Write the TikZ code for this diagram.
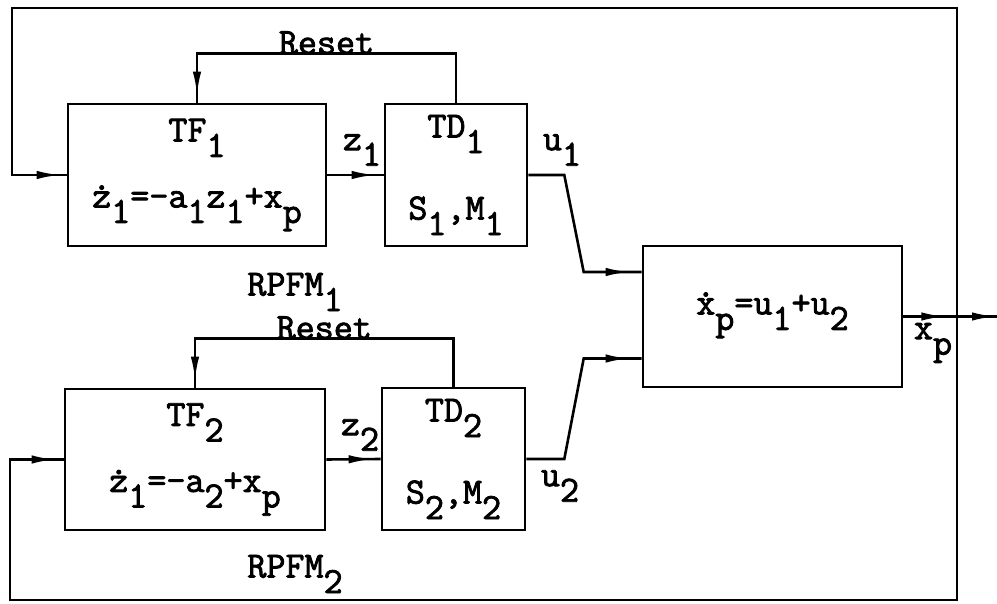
\documentclass[tikz,border=0pt]{standalone}
\usepackage{fontspec}
\setmonofont{Latin Modern Mono}[AutoFakeBold=2.2]
\usetikzlibrary{arrows.meta,decorations.markings,calc}
\newcommand\lo[1]{\raisebox{-0.42em}{#1}}
\newcommand\dt[1]{\ooalign{#1\cr\hidewidth\raisebox{0.48em}{.}\hidewidth\cr}}
\newcommand\typefont{\fontsize{18.5}{21}\selectfont\ttfamily\bfseries}

\begin{document}
\begin{tikzpicture}[x=0.5pt, y=-0.5pt,
  >={Latex[length=12pt,width=4.2pt]},
  line/.style={line width=1.3pt},
  box/.style={draw, line width=1.3pt, inner sep=0pt, align=center, font=\typefont},
  lbl/.style={inner sep=1pt, font=\typefont},
  arr/.style={line, postaction={decorate}, decoration={markings, mark=at position #1 with {\arrow{>}}}},
]
\useasboundingbox (0,0) rectangle (997,604);

% === RPFM_1 ===
\node[box, minimum width=129pt, minimum height=71pt] (tf1) at (197,175) {TF\lo1\\[12pt]\dt{z}\lo1=-a\lo1z\lo1+x\lo p};
\node[box, minimum width=71pt, minimum height=71pt] (td1) at (456,175) {TD\lo1\\[20pt]S\lo1,M\lo1};
\node[lbl] (rpfm1) at (295,292) {RPFM\lo1};
\node[lbl] (z1) at (362,150) {z\lo1};
\node[lbl] (u1) at (562,150) {u\lo1};

% === RPFM_2 ===
\node[box, minimum width=130pt, minimum height=70.5pt] (tf2) at (195,459.5) {TF\lo2\\[12pt]\dt{z}\lo1=-a\lo2+x\lo p};
\node[box, minimum width=71.5pt, minimum height=71pt] (td2) at (453.5,459) {TD\lo2\\[20pt]S\lo2,M\lo2};
\node[lbl] (rpfm2) at (295,574) {RPFM\lo2};
\node[lbl] (z2) at (360,435) {z\lo2};
\node[lbl] (u2) at (560,486) {u\lo2};

% === plant ===
\node[box, minimum width=129.5pt, minimum height=70.5pt] (sum) at (772.5,316.5) {\dt{x}\lo p=u\lo1+u\lo2};
\node[lbl] (xp) at (933,343) {x\lo p};
\coordinate (tap) at (957,316.5);
\coordinate (out) at (997,316.5);
\coordinate (tl) at (12,8);
\coordinate (bl) at (10,600);

% reset loops
\draw[arr=-3.5pt] (td1.north) -- ++(0,-49) -| node[lbl, pos=0.25, above=-2pt] {Reset} (tf1.north);
\draw[arr=-3.5pt] (td2.north) -- ++(0,-48) -| node[lbl, pos=0.25, above=-2pt] {Reset} (tf2.north);

% forward paths
\draw[arr=-4pt] (tf1.east) -- (td1.west);
\draw[arr=-4pt] (tf2.east) -- (td2.west);
\draw[arr=-6pt] (td1.east) -- ++(36,0) -- ($(sum.west)+(-58,-44.5)$) -- ($(sum.west)+(0,-44.5)$);
\draw[arr=-6pt] (td2.east) -- ++(38,0) -- ($(sum.west)+(-58,42)$) -- ($(sum.west)+(0,42)$);
\draw[line, postaction={decorate}, decoration={markings,
  mark=at position 21pt with {\arrow{>}}, mark=at position -0.5pt with {\arrow{>}}}] (sum.east) -- (out);

% feedback of x_p
\draw[arr=-3pt] (tap) |- (tl) |- (tf1.west);
\draw[arr=-4pt] (tap) |- (bl) |- (tf2.west);

\end{tikzpicture}
\end{document}
